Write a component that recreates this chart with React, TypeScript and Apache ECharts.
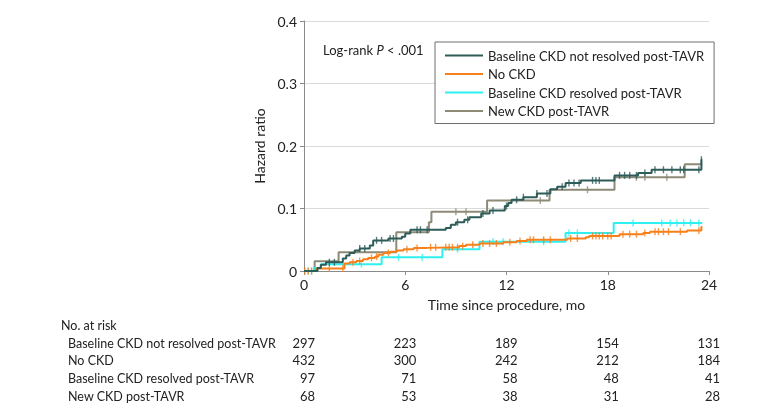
import React, { useEffect, useRef } from "react";
import * as echarts from "echarts";

const FONT = "Lato";
const END_TIME = 23.6;

const seriesNames = [
  "Baseline CKD not resolved post-TAVR",
  "No CKD",
  "Baseline CKD resolved post-TAVR",
  "New CKD post-TAVR",
];
const seriesColors = ["#2d5c59", "#f7801a", "#2ff0f0", "#8d8a76"];

// Step change times (months) and cumulative hazard values
const notResolvedT = [0, 0.8, 1.0, 1.3, 2.3, 2.5, 2.7, 3.0, 3.3, 3.9, 4.1, 5.0, 5.8, 6.0, 6.3, 8.4, 8.7, 9.0, 9.5, 9.8, 10.5, 11.0, 11.9, 12.1, 12.3, 13.0, 13.8, 14.6, 15.0, 15.5, 16.4, 18.4, 19.8, 20.6, 23.55];
const notResolvedV = [0, 0.005, 0.01, 0.014, 0.02, 0.025, 0.029, 0.033, 0.036, 0.041, 0.049, 0.052, 0.055, 0.06, 0.066, 0.069, 0.074, 0.078, 0.082, 0.086, 0.092, 0.097, 0.104, 0.109, 0.114, 0.118, 0.124, 0.131, 0.135, 0.141, 0.145, 0.153, 0.157, 0.162, 0.178];
const notResolvedCensor = [1.5, 1.8, 3.3, 3.6, 4.3, 4.6, 5.1, 5.3, 6.7, 6.9, 7.3, 9.1, 9.7, 10.6, 11.2, 12.0, 12.6, 13.0, 13.8, 14.4, 15.3, 15.7, 16.0, 16.3, 17.1, 17.3, 17.5, 18.7, 19.0, 19.3, 19.7, 20.2, 20.8, 21.3, 21.8, 22.3, 22.5, 23.4, 23.55];

const noCkdT = [0, 0.7, 2.4, 2.7, 3.1, 3.5, 3.8, 4.2, 4.4, 4.7, 5.1, 5.5, 5.9, 6.5, 7.3, 9.2, 9.6, 10.4, 11.8, 12.6, 13.2, 15.6, 16.7, 16.9, 18.7, 20.1, 20.5, 22.7, 23.55];
const noCkdV = [0, 0.004, 0.012, 0.014, 0.016, 0.019, 0.021, 0.023, 0.026, 0.029, 0.031, 0.033, 0.035, 0.037, 0.038, 0.04, 0.042, 0.044, 0.046, 0.048, 0.05, 0.052, 0.054, 0.056, 0.059, 0.061, 0.063, 0.065, 0.071];
const noCkdCensor = [0.05, 0.25, 0.45, 1.5, 2.3, 2.9, 3.3, 4.0, 4.3, 5.0, 6.1, 6.7, 7.5, 7.8, 8.4, 8.6, 8.8, 9.1, 9.4, 10.0, 10.6, 11.0, 11.4, 12.2, 12.8, 13.4, 13.6, 14.2, 14.6, 15.8, 16.2, 17.1, 17.3, 17.5, 17.7, 18.0, 18.2, 18.9, 19.3, 19.7, 20.2, 20.8, 21.0, 21.3, 21.6, 22.3, 23.4];

const resolvedT = [0, 0.6, 1.0, 4.6, 8.2, 10.4, 15.5, 18.35];
const resolvedV = [0, 0.005, 0.011, 0.022, 0.035, 0.047, 0.061, 0.077];
const resolvedCensor = [0.25, 0.45, 3.4, 5.6, 7.0, 9.1, 11.2, 11.8, 14.2, 15.7, 16.2, 19.5, 21.2, 21.7, 22.1, 22.5, 22.9, 23.4];

const newCkdT = [0, 0.63, 2.05, 5.47, 7.4, 7.55, 10.85, 14.55, 18.4, 22.56];
const newCkdV = [0, 0.0155, 0.03, 0.062, 0.078, 0.095, 0.113, 0.13, 0.15, 0.171];
const newCkdCensor = [9.0, 9.6, 14.0, 16.8, 19.7, 20.2, 21.5];

// Number at risk table
const riskTimes = [0, 6, 12, 18, 24];
const notResolvedRisk = [297, 223, 189, 154, 131];
const noCkdRisk = [432, 300, 242, 212, 184];
const resolvedRisk = [97, 71, 58, 48, 41];
const newCkdRisk = [68, 53, 38, 31, 28];

const yTicks = [0, 0.1, 0.2, 0.3, 0.4];
const xTicks = [0, 6, 12, 18, 24];

const allT = [notResolvedT, noCkdT, resolvedT, newCkdT];
const allV = [notResolvedV, noCkdV, resolvedV, newCkdV];
const allCensor = [notResolvedCensor, noCkdCensor, resolvedCensor, newCkdCensor];
const allRisk = [notResolvedRisk, noCkdRisk, resolvedRisk, newCkdRisk];

function valueAt(ts: number[], vs: number[], t: number): number {
  let v = vs[0];
  for (let i = 0; i < ts.length; i++) {
    if (ts[i] <= t) v = vs[i];
  }
  return v;
}

export default function App() {
  const ref = useRef<HTMLDivElement>(null);
  useEffect(() => {
    const chart = echarts.init(ref.current!, null, { renderer: "svg" });
    const drawOrder = [3, 2, 1, 0];
    const lineSeries: any[] = drawOrder.map((k) => ({
      name: seriesNames[k],
      type: "line",
      step: "end",
      symbol: "none",
      showSymbol: false,
      z: 2 + (3 - k),
      lineStyle: { color: seriesColors[k], width: 2 },
      itemStyle: { color: seriesColors[k] },
      data: [...allT[k].map((t, i) => [t, allV[k][i]]), [END_TIME, allV[k][allV[k].length - 1]]],
    }));
    const censorSeries: any[] = drawOrder.map((k) => ({
      name: seriesNames[k] + " censored",
      type: "scatter",
      symbol: "rect",
      symbolSize: [1.4, 7],
      silent: true,
      z: 2 + (3 - k),
      itemStyle: { color: seriesColors[k] },
      data: allCensor[k].map((t) => [t, valueAt(allT[k], allV[k], t)]),
    }));

    chart.setOption({
      animation: false,
      textStyle: { fontFamily: FONT },
      grid: { left: 304, right: 71, top: 21, bottom: 145, containLabel: false },
      xAxis: {
        type: "value",
        min: xTicks[0],
        max: xTicks[xTicks.length - 1],
        interval: 6,
        name: "Time since procedure, mo",
        nameLocation: "middle",
        nameGap: 26,
        nameTextStyle: { fontFamily: FONT, fontSize: 14, color: "#222" },
        axisLine: { show: true, lineStyle: { color: "#8a8a8a", width: 1 } },
        axisTick: { show: true, length: 4, lineStyle: { color: "#8a8a8a" } },
        axisLabel: { fontFamily: FONT, fontSize: 14, color: "#222", margin: 6 },
        splitLine: { show: false },
      },
      yAxis: {
        type: "value",
        min: yTicks[0],
        max: yTicks[yTicks.length - 1],
        interval: 0.1,
        name: "Hazard ratio",
        nameLocation: "middle",
        nameGap: 35,
        nameTextStyle: { fontFamily: FONT, fontSize: 14, color: "#222" },
        axisLine: { show: true, lineStyle: { color: "#8a8a8a", width: 1 } },
        axisTick: { show: true, length: 4, lineStyle: { color: "#8a8a8a" } },
        axisLabel: { fontFamily: FONT, fontSize: 14, color: "#222", margin: 7 },
        splitLine: { show: true, lineStyle: { color: "#dadada", width: 1 } },
      },
      legend: {
        data: seriesNames,
        orient: "vertical",
        left: 435,
        top: 42,
        padding: [6, 10, 5, 10],
        itemGap: 3.5,
        icon: "rect",
        itemWidth: 38,
        itemHeight: 2,
        borderColor: "#6e6e6e",
        borderWidth: 1,
        backgroundColor: "#fff",
        textStyle: { fontFamily: FONT, fontSize: 13, color: "#222", lineHeight: 15 },
      },
      series: [...censorSeries, ...lineSeries],
    });

    const px = (t: number) => (chart.convertToPixel({ gridIndex: 0 }, [t, 0]) as number[])[0];
    const rowY = [343, 360, 378, 396];
    const TABLE_FONT = `12.5px ${FONT}`;
    const graphics: any[] = [
      {
        type: "text",
        left: 323,
        top: 43,
        style: {
          text: "Log-rank {i|P} < .001",
          font: `13px ${FONT}`,
          fill: "#222",
          rich: { i: { fontStyle: "italic", fontFamily: FONT, fontSize: 13, fill: "#222" } },
        },
      },
      {
        type: "text",
        x: 61,
        y: 325,
        style: { text: "No. at risk", font: TABLE_FONT, fill: "#222", verticalAlign: "middle", align: "left" },
      },
    ];
    seriesNames.forEach((nm, r) => {
      graphics.push({
        type: "text",
        x: 68,
        y: rowY[r],
        style: { text: nm, font: TABLE_FONT, fill: "#222", verticalAlign: "middle", align: "left" },
      });
      riskTimes.forEach((t, c) => {
        graphics.push({
          type: "text",
          x: px(t) + 11,
          y: rowY[r],
          style: { text: String(allRisk[r][c]), font: `13px ${FONT}`, fill: "#222", verticalAlign: "middle", align: "right" },
        });
      });
    });
    chart.setOption({ graphic: graphics });

    return () => chart.dispose();
  }, []);
  return <div ref={ref} style={{ position: "fixed", left: 0, top: 0, width: 780, height: 416 }} />;
}
